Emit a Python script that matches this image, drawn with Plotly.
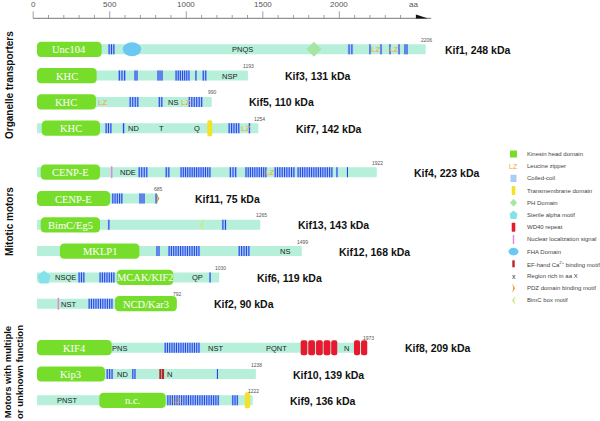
import plotly.graph_objects as go

# ---------------- data (amino-acid coordinates) ----------------
proteins = ["Kif1", "Kif3", "Kif5", "Kif7", "Kif4", "Kif11", "Kif13", "Kif12",
            "Kif6", "Kif2", "Kif8", "Kif10", "Kif9"]
mass_kda = [248, 131, 110, 142, 223, 75, 143, 168, 119, 90, 209, 139, 136]
length_labels = ["2206", "1193", "990", "1254", "1922", "685", "1265", "1499",
                 "1030", "792", "1973", "1238", "1222"]
drawn_length_aa = [2202, 1195, 990, 1254, 1925, 685, 1265, 1500, 1032, 792, 1870, 1240, 1222]
row_group = [0, 0, 0, 0, 1, 1, 1, 1, 1, 1, 2, 2, 2]
group_names = ["Organelle transporters", "Mitotic motors",
               "Motors with multiple<br>or unknown function"]

head_domains = [(0, 366, "Unc104"), (0, 338, "KHC"), (0, 334, "KHC"), (27, 357, "KHC"),
                (21, 357, "CENP-E"), (0, 414, "CENP-E"), (21, 357, "BimC/Eg5"),
                (130, 580, "MKLP1"), (452, 772, "MCAK/KIF2"), (442, 792, "NCD/Kar3"),
                (0, 423, "KIF4"), (0, 385, "Kip3"), (353, 729, "n.c.")]

coiled_coils = [
    [(402, 442), (1760, 1792), (1881, 1892), (1943, 1955), (1994, 2006), (2045, 2057), (2079, 2102)],
    [(459, 504), (550, 572), (680, 714), (782, 867), (895, 906), (935, 963)],
    [(521, 578), (686, 714), (856, 940)],
    [(385, 425), (482, 499), (1082, 1150), (1195, 1212)],
    [(572, 629), (725, 754), (810, 986), (1088, 1133), (1178, 1303), (1343, 1462),
     (1473, 1677), (1694, 1705), (1756, 1762)],
    [(423, 487), (578, 612), (669, 680)],
    [(400, 414), (1046, 1075)],
    [(674, 697), (742, 924), (1139, 1207)],
    [(232, 272), (351, 442), (975, 986)],
    [(289, 431)],
    [(720, 924)],
    [(391, 432), (537, 561), (1018, 1027)],
    [(735, 1033), (1103, 1141)],
]

rich_regions = [
    [(1167, "PNQS")], [(1093, "NSP")], [(771, "NS")],
    [(544, "ND"), (708, "T"), (907, "Q")], [(516, "NDE")], [], [], [(1405, "NS")],
    [(159, "NSQE"), (907, "QP")], [(176, "NST")],
    [(465, "PNS"), (1014, "NST"), (1358, "PQNT"), (1751, "N")],
    [(486, "ND"), (750, "N")], [(168, "PNST")],
]

leucine_zippers = [[1915, 2017], [], [372, 839], [1184], [1320], [], [], [], [], [], [], [], [791]]
transmembrane = [[], [], [], [(965, 993)], [], [], [], [], [], [], [], [], [(1178, 1207)]]
ph_domains = [[1569], [], [], [], [], [], [], [], [], [], [], [], []]
sam_domains = [[], [], [], [], [], [], [], [], [40], [], [], [], []]
fha_domains = [[(486, 590)], [], [], [], [], [], [], [], [], [], [], [], []]
nls_sites = [[], [], [], [], [423], [], [], [], [], [121], [], [], []]
wd40_repeats = [[], [], [], [], [], [], [], [], [], [],
                [(1494, 1531), (1537, 1575), (1581, 1619), (1624, 1662), (1667, 1701),
                 (1796, 1830), (1836, 1871)], [], []]
ef_hands = [[], [], [], [], [], [], [], [], [], [], [], [(693, 705), (708, 720)], []]
pdz_motifs = [[], [], [], [], [], [685], [], [], [], [], [], [], []]
bimc_boxes = [[], [], [], [], [], [], [932], [], [], [], [], [], []]

legend_labels = ["Kinesin head domain", "Leucine zipper", "Coiled-coil", "Transmembrane domain",
                 "PH Domain", "Sterile alpha motif", "WD40 repeat", "Nuclear localization signal",
                 "FHA Domain", "EF-hand Ca<sup>2+</sup> binding motif", "Region rich in aa X",
                 "PDZ domain binding motif", "BimC box motif"]
legend_kinds = ["head", "lz", "cc", "tm", "ph", "sam", "wd40", "nls", "fha", "ef", "x", "pdz", "bimc"]

ruler_major = [0, 500, 1000, 1500, 2000]
ruler_minor_step = 100
ruler_minor_max = 2400

# ---------------- layout constants ----------------
W, H = 600, 421
PX_PER_AA = 0.1765      # protein bars
X0_PX = 37.0
R_PX_PER_AA = 0.15307   # ruler scale
R_X0_PX = 33.2
RULER_Y = 18.3

SX = 1.0 / PX_PER_AA    # aa per px on main axis
SX2 = 1.0 / R_PX_PER_AA

C_BAR = "#b6efda"
C_HEAD = "#77dd2b"
C_CCBG = "#a9cdf5"
C_CC = "#2446e6"
C_TM = "#f3e12a"
C_WD = "#e8182f"
C_NLS = "#e38ad6"
C_FHA = "#6ac8f2"
C_EF = "#b3262a"
C_PDZ = "#ee8a24"
C_BIMC = "#cfe87c"
C_SAM = "#86e2ea"
C_PH = "#a6e6a2"
C_LZ = "#f2a81d"
SANS = "Liberation Sans, Arial, sans-serif"
SERIF = "Liberation Serif, Times New Roman, serif"


def row_y(i):
    return 49.3 + 26.3 * i + 17.7 * row_group[i]


shapes = []
annotations = []


def rrect(xref, x0, x1, y0, y1, r, sx, fill, layer="above"):
    rx = min(r * sx, (x1 - x0) / 2.0)
    ry = min(r, (y1 - y0) / 2.0)
    p = (f"M{x0+rx},{y0} L{x1-rx},{y0} Q{x1},{y0} {x1},{y0+ry} L{x1},{y1-ry} "
         f"Q{x1},{y1} {x1-rx},{y1} L{x0+rx},{y1} Q{x0},{y1} {x0},{y1-ry} "
         f"L{x0},{y0+ry} Q{x0},{y0} {x0+rx},{y0} Z")
    shapes.append(dict(type="path", path=p, xref=xref, yref="y", fillcolor=fill,
                       line=dict(width=0), layer=layer))


def poly(xref, pts, fill, layer="above"):
    p = "M" + " L".join(f"{a},{b}" for a, b in pts) + " Z"
    shapes.append(dict(type="path", path=p, xref=xref, yref="y", fillcolor=fill,
                       line=dict(width=0), layer=layer))


def ellipse(xref, x0, x1, y0, y1, fill):
    shapes.append(dict(type="circle", xref=xref, yref="y", x0=x0, x1=x1, y0=y0, y1=y1,
                       fillcolor=fill, line=dict(width=0), layer="above"))


def text(xref, x, y, s, size, color, family=SANS, xanchor="center", bold=False):
    if bold:
        s = f"<b>{s}</b>"
    annotations.append(dict(x=x, y=y, xref=xref, yref="y", text=s, showarrow=False,
                            xanchor=xanchor, yanchor="middle",
                            font=dict(size=size, color=color, family=family)))


prot_sx, prot_sy = [], []
leg_sx, leg_sy = [], []


def stripes(xs, ys, s, e, yc, sx, half=5.0):
    pitch = 2.3 * sx
    n = max(1, int(round((e - s) / pitch)))
    step = (e - s) / n
    for k in range(n):
        xx = s + step * (k + 0.5)
        xs.extend([xx, xx, None])
        ys.extend([yc - half, yc + half, None])


# ---------------- proteins ----------------
for i, name in enumerate(proteins):
    y = row_y(i)
    L = drawn_length_aa[i]
    rrect("x", 0, L, y - 5, y + 5, 0.8, SX, C_BAR, layer="below")
    for s, e in coiled_coils[i]:
        shapes.append(dict(type="rect", xref="x", yref="y", x0=s, x1=e, y0=y - 5, y1=y + 5,
                           fillcolor=C_CCBG, line=dict(width=0), layer="below"))
        stripes(prot_sx, prot_sy, s, e, y, SX)
    hs, he, hl = head_domains[i]
    rrect("x", hs, he, y - 7.6, y + 7.6, 4.5, SX, C_HEAD)
    text("x", (hs + he) / 2, y + 0.5, hl, 10.5, "white", family=SERIF)
    for s, e in transmembrane[i]:
        rrect("x", s, e, y - 8, y + 8, 1.5, SX, C_TM)
    for c in ph_domains[i]:
        poly("x", [(c - 7.5 * SX, y), (c, y - 7.5), (c + 7.5 * SX, y), (c, y + 7.5)], C_PH)
    for c in sam_domains[i]:
        poly("x", [(c, y - 7), (c + 6.5 * SX, y - 2), (c + 4.5 * SX, y + 6),
                   (c - 4.5 * SX, y + 6), (c - 6.5 * SX, y - 2)], C_SAM)
    for s, e in fha_domains[i]:
        ellipse("x", s, e, y - 7, y + 7, C_FHA)
    for c in nls_sites[i]:
        shapes.append(dict(type="line", xref="x", yref="y", x0=c, x1=c, y0=y - 6, y1=y + 6,
                           line=dict(color=C_NLS, width=1.6), layer="above"))
    for s, e in wd40_repeats[i]:
        rrect("x", s, e, y - 7.5, y + 7.5, 2.0, SX, C_WD)
    for s, e in ef_hands[i]:
        shapes.append(dict(type="rect", xref="x", yref="y", x0=s, x1=e, y0=y - 5, y1=y + 5,
                           fillcolor=C_EF, line=dict(width=0), layer="above"))
    for c in pdz_motifs[i]:
        poly("x", [(c - 1.5 * SX, y - 5), (c + 1.5 * SX, y), (c - 1.5 * SX, y + 5),
                   (c - 0.3 * SX, y)], C_PDZ)
    for c in bimc_boxes[i]:
        poly("x", [(c + 2 * SX, y - 6), (c - 1.5 * SX, y), (c + 2 * SX, y + 6),
                   (c + 1 * SX, y)], C_BIMC)
    for pos, lab in rich_regions[i]:
        text("x", pos, y + 0.5, lab, 7.5, "#222222")
    for pos in leucine_zippers[i]:
        text("x", pos, y + 0.5, "LZ", 8, C_LZ)
    text("x", L + 1 * SX, y - 9.5, length_labels[i], 5, "#555555")
    off = 17.5 if i == 0 else 35.5
    text("x", L + off * SX, y + 0.5, f"{name}, {mass_kda[i]} kDa", 10.5, "#111111",
         xanchor="left", bold=True)

# ---------------- group labels ----------------
group_pos = [(9, 85), (9, 222), (13, 372)]
for g, gname in enumerate(group_names):
    gx, gy = group_pos[g]
    annotations.append(dict(x=gx, y=gy, xref="x3", yref="y", text=f"<b>{gname}</b>",
                            showarrow=False, textangle=-90, xanchor="center", yanchor="middle",
                            font=dict(size=10 if g < 2 else 9.5, color="#111111", family=SANS)))

# ---------------- ruler ----------------
shapes.append(dict(type="line", xref="x2", yref="y", x0=0, x1=2600, y0=RULER_Y, y1=RULER_Y,
                   line=dict(color="#777777", width=1)))
poly("x2", [(2500, 14.4), (2580, RULER_Y + 0.3), (2500, RULER_Y + 0.3)], "#111111")
for v in range(0, ruler_minor_max + 1, ruler_minor_step):
    major = v in ruler_major
    shapes.append(dict(type="line", xref="x2", yref="y", x0=v, x1=v,
                       y0=(11.3 if major else 15.0), y1=RULER_Y,
                       line=dict(color="#888888", width=0.8)))
for v in ruler_major:
    text("x2", v, 4.6, str(v), 8, "#555555")
text("x2", 2484, 4.6, "aa", 8, "#555555")

# ---------------- legend ----------------
LX = 513.5
for k, (lab, kind) in enumerate(zip(legend_labels, legend_kinds)):
    y = 154 + 12.2 * k
    text("x3", 525, y, lab, 6.0, "#444444", xanchor="left")
    if kind == "head":
        shapes.append(dict(type="rect", xref="x3", yref="y", x0=LX - 3.5, x1=LX + 3.5,
                           y0=y - 3.5, y1=y + 3.5, fillcolor=C_HEAD, line=dict(width=0)))
    elif kind == "lz":
        text("x3", LX, y, "LZ", 7, C_LZ)
    elif kind == "cc":
        shapes.append(dict(type="rect", xref="x3", yref="y", x0=LX - 3, x1=LX + 3,
                           y0=y - 3.5, y1=y + 3.5, fillcolor=C_CCBG, line=dict(width=0)))
        stripes(leg_sx, leg_sy, LX - 3, LX + 3, y, 1.0, half=3.5)
    elif kind == "tm":
        rrect("x3", LX - 1.8, LX + 1.8, y - 4.5, y + 4.5, 1, 1.0, C_TM)
    elif kind == "ph":
        poly("x3", [(LX - 3.5, y), (LX, y - 4), (LX + 3.5, y), (LX, y + 4)], C_PH)
    elif kind == "sam":
        poly("x3", [(LX, y - 4.5), (LX + 4, y - 1.3), (LX + 2.8, y + 4), (LX - 2.8, y + 4),
                    (LX - 4, y - 1.3)], C_SAM)
    elif kind == "wd40":
        rrect("x3", LX - 1.8, LX + 1.8, y - 4.5, y + 4.5, 0.8, 1.0, C_WD)
    elif kind == "nls":
        shapes.append(dict(type="line", xref="x3", yref="y", x0=LX, x1=LX, y0=y - 4.5,
                           y1=y + 4.5, line=dict(color=C_NLS, width=1.5)))
    elif kind == "fha":
        ellipse("x3", LX - 5, LX + 5, y - 3.8, y + 3.8, C_FHA)
    elif kind == "ef":
        shapes.append(dict(type="rect", xref="x3", yref="y", x0=LX - 1.2, x1=LX + 1.2,
                           y0=y - 3.5, y1=y + 3.5, fillcolor=C_EF, line=dict(width=0)))
    elif kind == "x":
        text("x3", LX, y, "x", 7, "#333333")
    elif kind == "pdz":
        poly("x3", [(LX - 1.2, y - 4.5), (LX + 1.5, y), (LX - 1.2, y + 4.5), (LX - 0.2, y)],
             C_PDZ)
    elif kind == "bimc":
        poly("x3", [(LX + 1.8, y - 4.5), (LX - 1.5, y), (LX + 1.8, y + 4.5), (LX + 0.8, y)],
             C_BIMC)

# ---------------- figure ----------------
fig = go.Figure()
fig.add_trace(go.Scatter(x=prot_sx, y=prot_sy, xaxis="x", yaxis="y", mode="lines",
                         line=dict(color=C_CC, width=1.1), showlegend=False, hoverinfo="skip"))
fig.add_trace(go.Scatter(x=[None], y=[None], xaxis="x2", yaxis="y", mode="lines",
                         showlegend=False, hoverinfo="skip"))
fig.add_trace(go.Scatter(x=leg_sx, y=leg_sy, xaxis="x3", yaxis="y", mode="lines",
                         line=dict(color=C_CC, width=1.0), showlegend=False, hoverinfo="skip"))

fig.update_layout(
    width=W, height=H, autosize=False,
    margin=dict(l=0, r=0, t=0, b=0),
    paper_bgcolor="white", plot_bgcolor="white",
    showlegend=False,
    xaxis=dict(range=[-X0_PX * SX, (W - X0_PX) * SX], visible=False, fixedrange=True),
    xaxis2=dict(range=[-R_X0_PX * SX2, (W - R_X0_PX) * SX2], visible=False,
                overlaying="x", fixedrange=True),
    xaxis3=dict(range=[0, W], visible=False, overlaying="x", fixedrange=True),
    yaxis=dict(range=[H, 0], visible=False, fixedrange=True),
    shapes=shapes,
    annotations=annotations,
)
fig.write_html("out.html", config={"displayModeBar": False},
               post_script="document.body.style.margin='0';document.body.style.overflow='hidden';")
